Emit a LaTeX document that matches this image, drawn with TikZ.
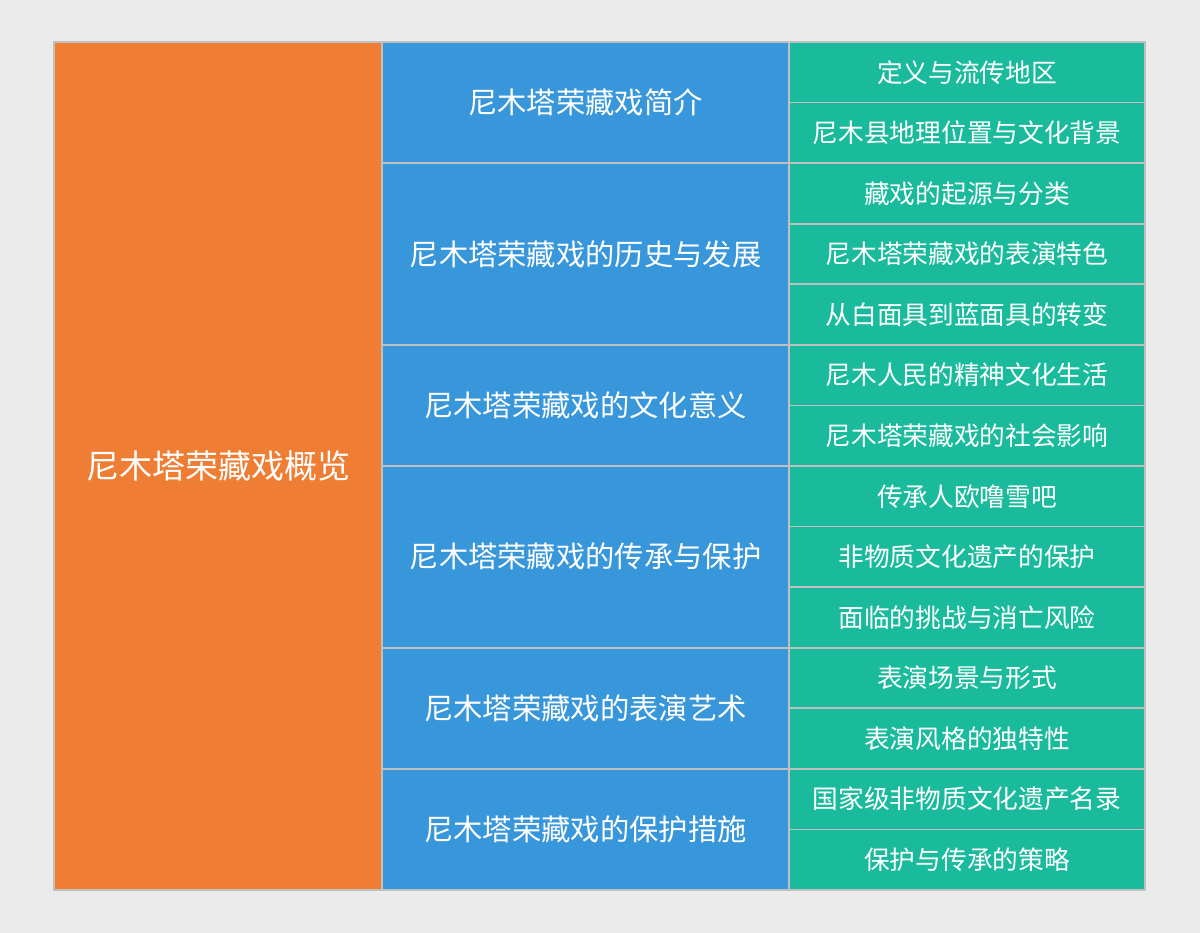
\documentclass[tikz,border=0pt]{standalone}
\usepackage{fontspec}
\newfontfamily\cjk{Noto Sans CJK SC}
\definecolor{bgc}{HTML}{EBEBEB}
\definecolor{orc}{HTML}{EF7D33}
\definecolor{blc}{HTML}{3896DA}
\definecolor{grc}{HTML}{1ABB9C}
\definecolor{bdc}{HTML}{C0C0C0}
\begin{document}
\begin{tikzpicture}[x=1pt,y=-1pt,
  cell/.style={anchor=north west,inner sep=0pt,outer sep=0pt,text=white,align=center,font=\cjk},
  rootbox/.style={cell,fill=orc,font=\cjk\fontsize{33}{38}\selectfont},
  midbox/.style={cell,fill=blc,font=\cjk\fontsize{29.3}{34}\selectfont},
  leafbox/.style={cell,fill=grc,font=\cjk\fontsize{25.7}{30}\selectfont},
  edge/.style={draw=bdc,line width=1.6pt}]
\fill[bgc] (0,0) rectangle (1200,933);
\useasboundingbox (0,0) rectangle (1200,933);
\pgfmathsetmacro{\rh}{(890-42)/14}
\def\xa{54}\def\xb{382}\def\xc{789}\def\xd{1145}
% root
\node[rootbox,minimum width=328pt,minimum height=848pt] (root) at (\xa,42) {尼木塔荣藏戏概览};
% middle
\foreach \nm/\s/\n/\t in {m1/0/2/尼木塔荣藏戏简介,m2/2/3/尼木塔荣藏戏的历史与发展,m3/5/2/尼木塔荣藏戏的文化意义,m4/7/3/尼木塔荣藏戏的传承与保护,m5/10/2/尼木塔荣藏戏的表演艺术,m6/12/2/尼木塔荣藏戏的保护措施}{
  \node[midbox,minimum width=407pt,minimum height=\n*\rh*1pt] (\nm) at (\xb,42+\s*\rh) {\t};
}
% leaves
\foreach \nm/\s/\t in {l1/0/定义与流传地区,l2/1/尼木县地理位置与文化背景,l3/2/藏戏的起源与分类,l4/3/尼木塔荣藏戏的表演特色,l5/4/从白面具到蓝面具的转变,l6/5/尼木人民的精神文化生活,l7/6/尼木塔荣藏戏的社会影响,l8/7/传承人欧噜雪吧,l9/8/非物质文化遗产的保护,l10/9/面临的挑战与消亡风险,l11/10/表演场景与形式,l12/11/表演风格的独特性,l13/12/国家级非物质文化遗产名录,l14/13/保护与传承的策略}{
  \node[leafbox,minimum width=356pt,minimum height=\rh*1pt] (\nm) at (\xc,42+\s*\rh) {\t};
}
% borders
\foreach \nm in {root,m1,m2,m3,m4,m5,m6,l1,l2,l3,l4,l5,l6,l7,l8,l9,l10,l11,l12,l13,l14}{
  \draw[edge] (\nm.north west) rectangle (\nm.south east);
}
\end{tikzpicture}
\end{document}
